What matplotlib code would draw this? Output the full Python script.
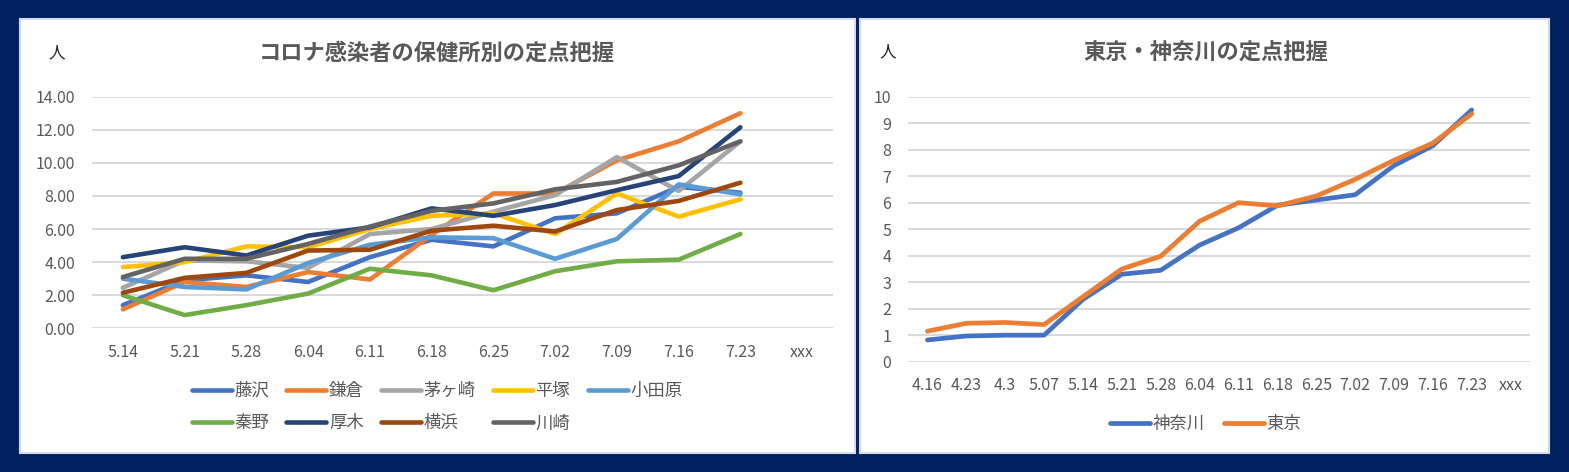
import numpy as np
import matplotlib
matplotlib.use("Agg")
import matplotlib.pyplot as plt
from matplotlib.patches import Rectangle

plt.rcParams['font.family'] = ['Noto Sans CJK JP', 'DejaVu Sans']

# 左のグラフ: 保健所別
weeks_l = ["5.14", "5.21", "5.28", "6.04", "6.11", "6.18", "6.25",
           "7.02", "7.09", "7.16", "7.23", "xxx"]
names_l = ["藤沢", "鎌倉", "茅ヶ崎", "平塚", "小田原", "秦野", "厚木", "横浜", "川崎"]
fujisawa  = [1.4, 2.9, 3.2, 2.8, 4.3, 5.35, 4.95, 6.65, 6.95, 8.55, 8.2]
kamakura  = [1.15, 2.8, 2.5, 3.4, 2.95, 5.65, 8.15, 8.15, 10.15, 11.3, 13.0]
chigasaki = [2.45, 4.1, 4.05, 3.65, 5.7, 6.0, 7.05, 8.05, 10.35, 8.3, 11.3]
hiratsuka = [3.7, 4.0, 4.95, 4.9, 6.0, 6.8, 6.95, 5.7, 8.15, 6.75, 7.8]
odawara   = [3.0, 2.5, 2.35, 3.95, 5.05, 5.5, 5.45, 4.2, 5.4, 8.7, 8.1]
hadano    = [2.0, 0.8, 1.4, 2.1, 3.6, 3.2, 2.3, 3.45, 4.05, 4.15, 5.7]
atsugi    = [4.3, 4.9, 4.4, 5.6, 6.1, 7.25, 6.8, 7.45, 8.35, 9.2, 12.15]
yokohama  = [2.15, 3.05, 3.35, 4.7, 4.75, 5.9, 6.2, 5.85, 7.15, 7.7, 8.8]
kawasaki  = [3.1, 4.2, 4.2, 5.1, 6.15, 7.1, 7.55, 8.4, 8.85, 9.85, 11.3]
series_l = [fujisawa, kamakura, chigasaki, hiratsuka, odawara,
            hadano, atsugi, yokohama, kawasaki]
colors_l = ["#4472C4", "#ED7D31", "#A5A5A5", "#FFC000", "#5B9BD5",
            "#70AD47", "#264478", "#9E480E", "#636363"]

# 右のグラフ: 東京・神奈川
weeks_r = ["4.16", "4.23", "4.3", "5.07", "5.14", "5.21", "5.28", "6.04",
           "6.11", "6.18", "6.25", "7.02", "7.09", "7.16", "7.23", "xxx"]
kanagawa = [0.82, 0.97, 1.0, 1.0, 2.35, 3.3, 3.45, 4.4,
            5.05, 5.9, 6.1, 6.3, 7.4, 8.15, 9.5]
tokyo    = [1.15, 1.45, 1.48, 1.4, 2.45, 3.5, 3.98, 5.3,
            6.0, 5.88, 6.25, 6.88, 7.6, 8.25, 9.35]

W, H = 1569, 472
fig = plt.figure(figsize=(W / 100, H / 100), dpi=100, facecolor="#002060")

def box(x0, y0, x1, y1):
    return [x0 / W, 1 - y1 / H, (x1 - x0) / W, (y1 - y0) / H]

# 白いパネル
for x0, x1 in [(20, 855), (860, 1549)]:
    fig.patches.append(Rectangle((x0 / W, 1 - 453 / H), (x1 - x0) / W, 434 / H,
                                 transform=fig.transFigure, facecolor="white",
                                 edgecolor="#d6dce5", lw=1.5, zorder=-5))

grey = "#595959"

def style(ax, pad_x, pad_y):
    for s in ax.spines.values():
        s.set_visible(False)
    ax.grid(axis="y", color="#d9d9d9", lw=1.4)
    ax.set_axisbelow(True)
    ax.tick_params(length=0, labelsize=11.5, labelcolor=grey)
    ax.tick_params(axis="x", pad=pad_x)
    ax.tick_params(axis="y", pad=pad_y)
    ax.patch.set_alpha(0)

# 左
ax1 = fig.add_axes(box(92, 96.7, 833, 328.3))
x = np.arange(len(weeks_l))
lines = []
for name, vals, c in zip(names_l, series_l, colors_l):
    ln, = ax1.plot(x[:len(vals)], vals, color=c, lw=3.3, label=name,
                   solid_capstyle="round", solid_joinstyle="round")
    lines.append(ln)
ax1.set_xlim(-0.5, len(weeks_l) - 0.5)
ax1.set_ylim(0, 14)
ax1.set_yticks(np.arange(0, 15, 2))
ax1.set_yticklabels([f"{v:.2f}" for v in np.arange(0, 15, 2)])
ax1.set_xticks(x)
ax1.set_xticklabels(weeks_l)
style(ax1, 11, 12)

# 行ごとに並べるための順番
order = [0, 5, 1, 6, 2, 7, 3, 8, 4]
fig.legend([lines[i] for i in order], [names_l[i] for i in order],
           loc="center", bbox_to_anchor=(437 / W, 1 - 407 / H), ncol=5,
           frameon=False, fontsize=12.5, labelcolor=grey, handlelength=2.3,
           handletextpad=0.15, columnspacing=1.0, labelspacing=0.85)

fig.text(437 / W, 1 - 53 / H, "コロナ感染者の保健所別の定点把握", ha="center",
         va="center", fontsize=16, fontweight="bold", color=grey)
fig.text(57 / W, 1 - 53 / H, "人", ha="center", va="center", fontsize=12,
         color="#262626")

# 右
ax2 = fig.add_axes(box(908, 96.7, 1530, 361.7))
xr = np.arange(len(weeks_r))
l1, = ax2.plot(xr[:len(kanagawa)], kanagawa, color="#4472C4", lw=3.4,
               label="神奈川", solid_capstyle="round", solid_joinstyle="round")
l2, = ax2.plot(xr[:len(tokyo)], tokyo, color="#ED7D31", lw=3.4,
               label="東京", solid_capstyle="round", solid_joinstyle="round")
ax2.set_xlim(-0.5, len(weeks_r) - 0.5)
ax2.set_ylim(0, 10)
ax2.set_yticks(np.arange(0, 11, 1))
ax2.set_xticks(xr)
ax2.set_xticklabels(weeks_r)
style(ax2, 11, 12)

fig.legend([l1, l2], ["神奈川", "東京"], loc="center",
           bbox_to_anchor=(1206 / W, 1 - 424 / H), ncol=2, frameon=False,
           fontsize=12.5, labelcolor=grey, handlelength=2.3,
           handletextpad=0.15, columnspacing=1.1)

fig.text(1206 / W, 1 - 53 / H, "東京・神奈川の定点把握", ha="center",
         va="center", fontsize=16, fontweight="bold", color=grey)
fig.text(888 / W, 1 - 52 / H, "人", ha="center", va="center", fontsize=12,
         color="#262626")

fig.savefig("out.png", dpi=100, facecolor=fig.get_facecolor())
